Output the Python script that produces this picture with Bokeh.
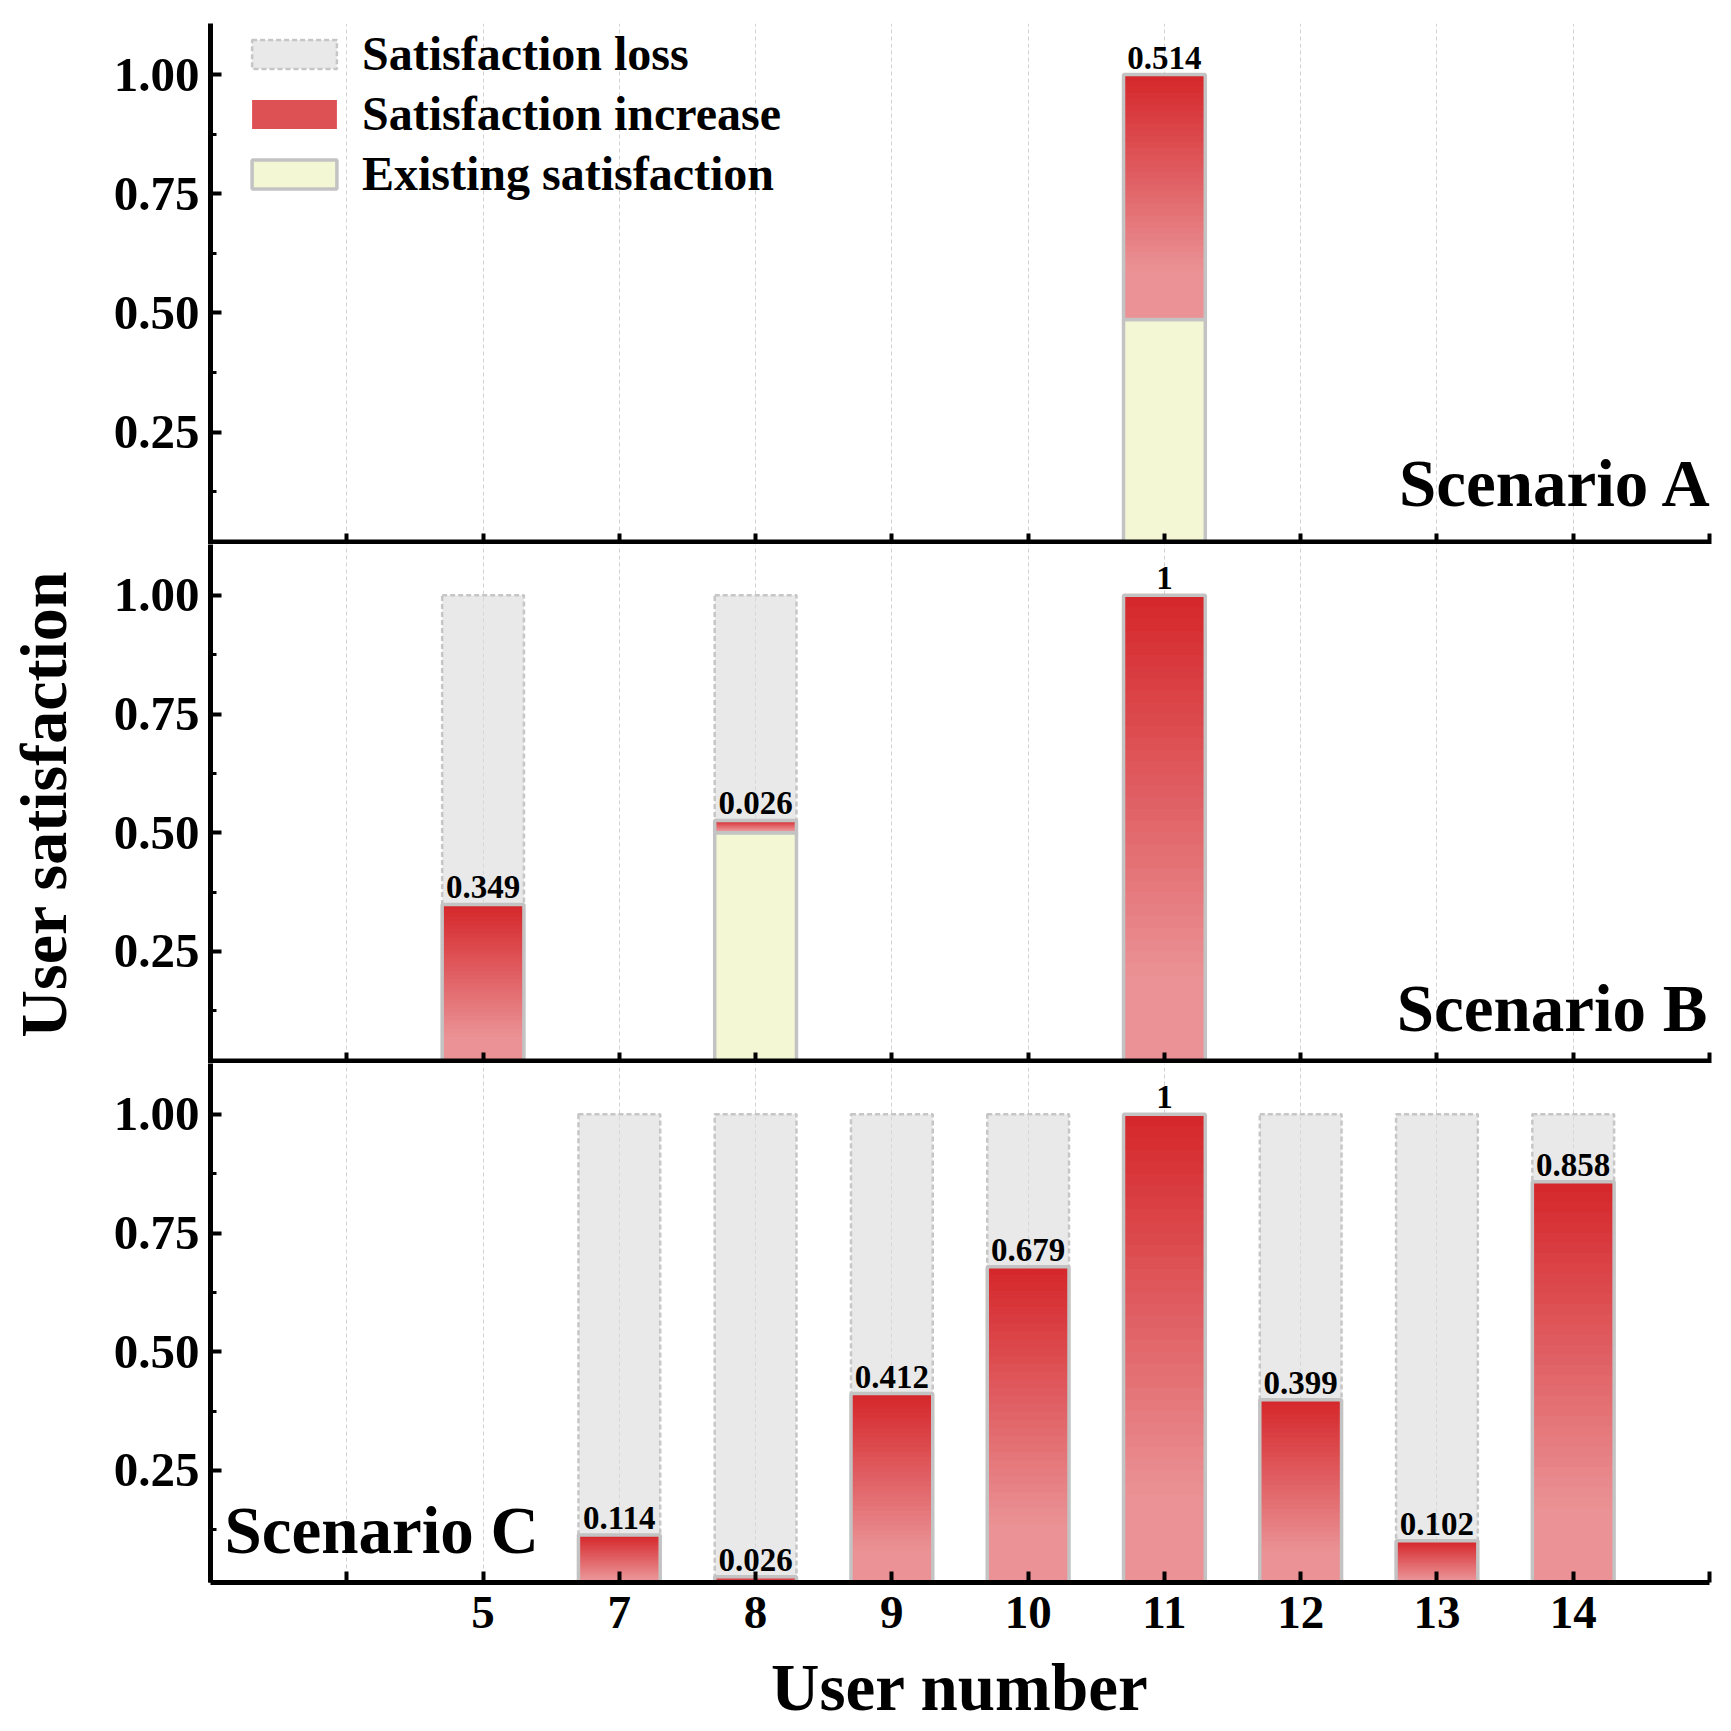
import numpy as np
from bokeh.core.properties import value
from bokeh.embed import file_html
from bokeh.layouts import column
from bokeh.models import (ColumnDataSource, FixedTicker, Label, Legend, LegendItem,
                          PrintfTickFormatter, Range1d)
from bokeh.plotting import figure
from bokeh.resources import INLINE

# users shown on the x axis (position 0, 1 and 11 carry no label)
users = ["5", "7", "8", "9", "10", "11", "12", "13", "14"]
x_tick_labels = ["", "", "5", "7", "8", "9", "10", "11", "12", "13", "14", ""]

existing_a = [0, 0, 0, 0, 0, 0.486, 0, 0, 0]
increase_a = [0, 0, 0, 0, 0, 0.514, 0, 0, 0]
existing_b = [0, 0, 0.5, 0, 0, 0, 0, 0, 0]
increase_b = [0.349, 0, 0.026, 0, 0, 1, 0, 0, 0]
existing_c = [0, 0, 0, 0, 0, 0, 0, 0, 0]
increase_c = [0, 0.114, 0.026, 0.412, 0.679, 1, 0.399, 0.102, 0.858]

y_ticks = [0.25, 0.5, 0.75, 1.0]
y_minor_ticks = [0.125, 0.375, 0.625, 0.875]

FONT = "Liberation Serif"
RED_TOP = np.array([213, 38, 42])
RED_LOW = np.array([234, 146, 149])
YELLOW = "#f3f7d3"
EDGE = "#c3c3c3"
N_STRIPS = 40
BAR_W = 0.6


def blend(t):
    t = min(1.0, t / 0.8)
    c = RED_TOP + (RED_LOW - RED_TOP) * t
    return "#%02x%02x%02x" % tuple(int(round(v)) for v in c)


def build_sources(existing, increase):
    bars = dict(x=[], base=[], top=[], label=[])
    exist = dict(x=[], top=[])
    loss = dict(x=[], bottom=[])
    strips = dict(x=[], bottom=[], top=[], color=[])
    for u, e, inc in zip(users, existing, increase):
        if inc <= 0:
            continue
        x = x_tick_labels.index(u)
        bars["x"].append(x)
        bars["base"].append(e)
        bars["top"].append(e + inc)
        bars["label"].append(f"{inc:g}")
        loss["x"].append(x)
        loss["bottom"].append(e + inc)
        if e > 0:
            exist["x"].append(x)
            exist["top"].append(e)
        # gradient: nested bars, tallest (darkest) first
        for k in range(N_STRIPS):
            strips["x"].append(x)
            strips["bottom"].append(e)
            strips["top"].append(e + inc * (1 - k / N_STRIPS))
            strips["color"].append(blend((k + 0.5) / N_STRIPS))
    return (ColumnDataSource(bars), ColumnDataSource(exist),
            ColumnDataSource(loss), ColumnDataSource(strips))


def make_panel(existing, increase, frame_height, top_border, last=False):
    p = figure(frame_width=1499, frame_height=frame_height,
               x_range=Range1d(0, 11), y_range=Range1d(0.014, 1.107),
               output_backend="svg", toolbar_location=None, tools="",
               min_border_left=210, min_border_right=14,
               min_border_top=top_border, min_border_bottom=0)
    p.outline_line_color = None
    p.background_fill_color = "white"
    p.border_fill_color = "white"

    bars, exist, loss, strips = build_sources(existing, increase)

    loss_r = p.vbar(x="x", bottom="bottom", top=1.0, width=BAR_W, source=loss,
                    fill_color="#dadada", fill_alpha=0.6,
                    line_color="#c6c6c6", line_width=2.5, line_dash="5 3")
    exist_r = p.vbar(x="x", bottom=0, top="top", width=BAR_W, source=exist,
                     fill_color=YELLOW, line_color=EDGE, line_width=3.5)
    strip_r = p.vbar(x="x", bottom="bottom", top="top", width=BAR_W, source=strips,
                     fill_color="color", line_color=None)
    edge_r = p.vbar(x="x", bottom="base", top="top", width=BAR_W, source=bars,
                    fill_color=None, line_color=EDGE, line_width=3.5)
    p.text(x="x", y="top", text="label", source=bars,
           text_font=value(FONT), text_font_style="bold", text_font_size=value("33px"),
           text_color="black", text_align="center", text_baseline="bottom", y_offset=-6)

    # grid
    p.ygrid.grid_line_color = None
    p.xgrid.ticker = FixedTicker(ticks=list(range(1, 11)))
    p.xgrid.grid_line_color = "#d2d2d2"
    p.xgrid.grid_line_dash = "4 3"
    p.xgrid.grid_line_width = 1

    # y axis
    ya = p.yaxis[0]
    ya.ticker = FixedTicker(ticks=y_ticks, minor_ticks=y_minor_ticks)
    ya.formatter = PrintfTickFormatter(format="%.2f")
    ya.axis_line_width = 5
    ya.major_tick_in = 11
    ya.major_tick_out = 0
    ya.major_tick_line_width = 4
    ya.minor_tick_in = 6
    ya.minor_tick_out = 0
    ya.minor_tick_line_width = 3
    ya.major_label_standoff = 11
    ya.major_label_text_font = FONT
    ya.major_label_text_font_style = "bold"
    ya.major_label_text_font_size = "49px"
    ya.major_label_text_color = "black"

    # x axis
    xa = p.xaxis[0]
    xa.ticker = FixedTicker(ticks=list(range(len(x_tick_labels))))
    xa.major_label_overrides = {i: lab for i, lab in enumerate(x_tick_labels)}
    xa.major_tick_in = 11
    xa.major_tick_out = 0
    xa.major_tick_line_width = 4
    xa.minor_tick_line_color = None
    xa.major_label_text_font = FONT
    xa.major_label_text_font_style = "bold"
    xa.major_label_text_color = "black"
    if last:
        xa.axis_line_width = 5
        xa.major_label_standoff = 14
        xa.major_label_text_font_size = "47px"
        xa.axis_label = "User number"
        xa.axis_label_standoff = 19
        xa.axis_label_text_font = FONT
        xa.axis_label_text_font_style = "bold"
        xa.axis_label_text_font_size = "67px"
        xa.axis_label_text_color = "black"
    else:
        xa.axis_line_width = 10
        xa.major_label_standoff = 0
        xa.major_label_text_font_size = "0px"

    return p, (loss_r, exist_r, strip_r, edge_r)


pa, rend_a = make_panel(existing_a, increase_a, 521, 23)
pb, _ = make_panel(existing_b, increase_b, 519, 0)
pc, _ = make_panel(existing_c, increase_c, 519, 0, last=True)

# y axis title sits on the middle panel
yb = pb.yaxis[0]
yb.axis_label = "User satisfaction"
yb.axis_label_standoff = 31
yb.axis_label_text_font = FONT
yb.axis_label_text_font_style = "bold"
yb.axis_label_text_font_size = "66px"
yb.axis_label_text_color = "black"

label_style = dict(text_font=FONT, text_font_style="bold", text_font_size="67px",
                   text_color="black", text_baseline="alphabetic")
pa.add_layout(Label(x=11, y=0.142, x_offset=4, text="Scenario A", text_align="right", **label_style))
pb.add_layout(Label(x=11, y=0.130, x_offset=-2, text="Scenario B", text_align="right", **label_style))
pc.add_layout(Label(x=0, y=0.125, x_offset=14, text="Scenario C", text_align="left", **label_style))

loss_r, exist_r, strip_r, edge_r = rend_a
legend = Legend(items=[
    LegendItem(label="Satisfaction loss", renderers=[loss_r]),
    LegendItem(label="Satisfaction increase", renderers=[strip_r, edge_r], index=12),
    LegendItem(label="Existing satisfaction", renderers=[exist_r]),
], location=(31, 343))
legend.border_line_color = None
legend.background_fill_alpha = 0
legend.label_text_font = FONT
legend.label_text_font_style = "bold"
legend.label_text_font_size = "48px"
legend.label_text_color = "black"
legend.glyph_width = 106
legend.glyph_height = 36
legend.label_standoff = 15
legend.spacing = 5
legend.padding = 0
legend.margin = 0
pa.add_layout(legend)

layout = column(pa, pb, pc)
open("out.html", "w").write(file_html(layout, INLINE))
